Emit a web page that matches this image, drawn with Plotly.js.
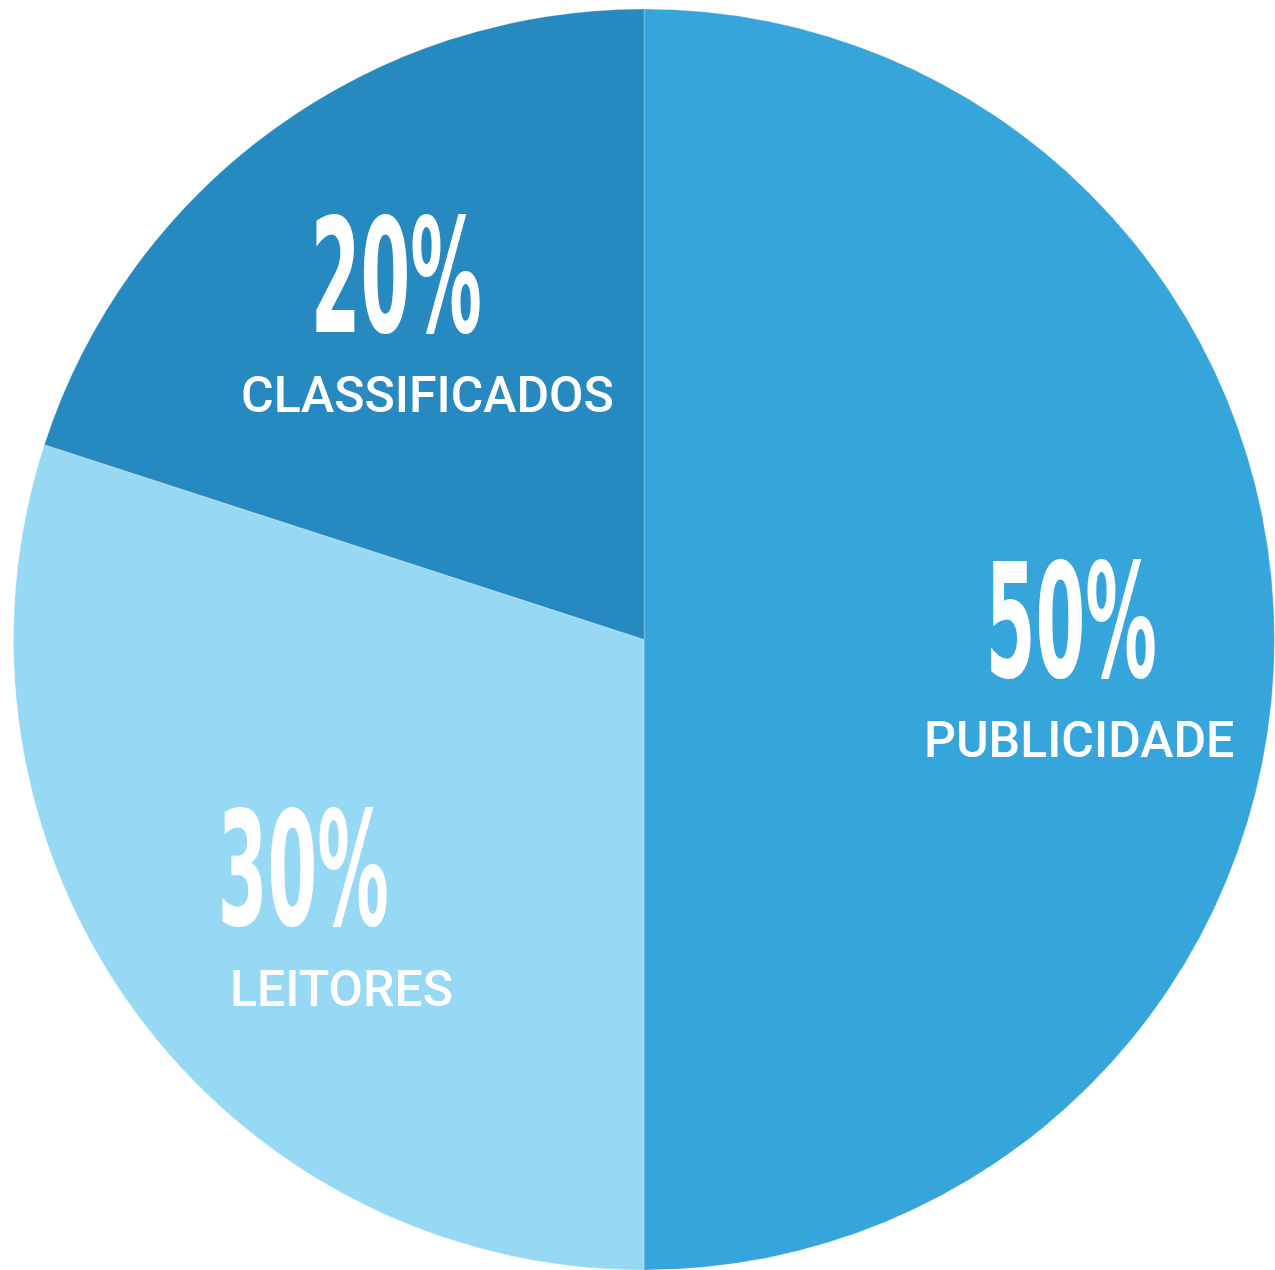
<!DOCTYPE html>
<html>
<head>
<meta charset="utf-8">
<script src="https://cdn.plot.ly/plotly-3.0.1.min.js"></script>
<style>html,body{margin:0;padding:0;background:#fff;}#chart{width:1275px;height:1270px;}</style>
</head>
<body>
<div id="chart"></div>
<script>
var categories = ['PUBLICIDADE', 'LEITORES', 'CLASSIFICADOS'];
var shares = [50, 30, 20];
var sliceColors = ['#36a5dc', '#97d9f5', '#2689c0'];

// label anchor positions (pixel centres) for each slice
var numPos = [[1071, 621], [303, 869], [396, 276]];
var catPos = [[1079, 740], [341, 989], [427, 395]];

var ML = 13, MT = 9, W = 1275, H = 1270;
var PW = W - ML, PH = H - MT;
function px(x) { return (x - ML) / PW; }
function py(y) { return 1 - (y - MT) / PH; }

var annotations = [];
shares.forEach(function (v, i) {
  annotations.push({
    text: v + '%', xref: 'paper', yref: 'paper',
    x: px(numPos[i][0]), y: py(numPos[i][1]), xanchor: 'center', yanchor: 'middle',
    showarrow: false,
    font: {family: 'DejaVu Sans', size: 159, color: '#ffffff', weight: 'bold'}
  });
});
categories.forEach(function (c, i) {
  annotations.push({
    text: c, xref: 'paper', yref: 'paper',
    x: px(catPos[i][0]), y: py(catPos[i][1]), xanchor: 'center', yanchor: 'middle',
    showarrow: false,
    font: {family: 'Roboto', size: 50, color: '#ffffff', weight: 500}
  });
});

var trace = {
  type: 'pie',
  labels: categories,
  values: shares,
  sort: false,
  direction: 'clockwise',
  rotation: 0,
  textinfo: 'none',
  hoverinfo: 'label+percent',
  marker: {colors: sliceColors, line: {color: 'rgba(255,255,255,0.25)', width: 1}},
  showlegend: false
};

var layout = {
  width: W, height: H,
  margin: {l: ML, r: 0, t: MT, b: 0, pad: 0},
  paper_bgcolor: '#ffffff',
  plot_bgcolor: '#ffffff',
  showlegend: false,
  annotations: annotations
};

Plotly.newPlot('chart', [trace], layout, {displayModeBar: false, staticPlot: true}).then(function () {
  var targetW = 171;
  var anns = document.querySelectorAll('#chart .annotation');
  anns.forEach(function (a) {
    var idx = +a.getAttribute('data-index');
    if (idx >= shares.length) return;
    var t = a.querySelector('text');
    if (!t) return;
    var bb = t.getBBox();
    var s = targetW / bb.width;
    var cx = bb.x + bb.width / 2;
    var prev = t.getAttribute('transform') || '';
    t.setAttribute('transform', prev + ' translate(' + cx + ',0) scale(' + s + ',1) translate(' + (-cx) + ',0)');
  });
});
</script>
</body>
</html>
